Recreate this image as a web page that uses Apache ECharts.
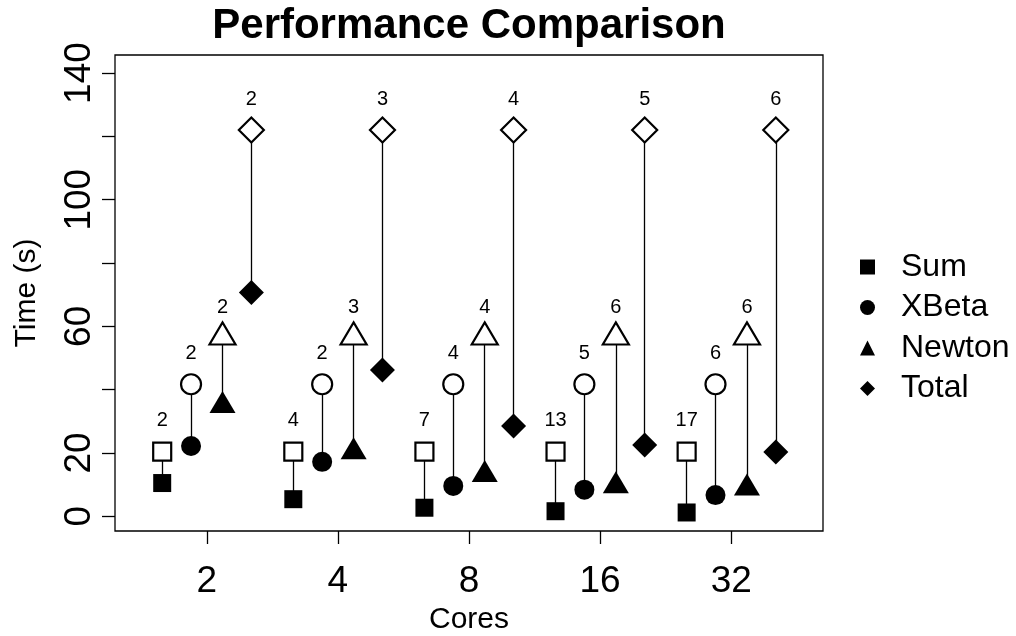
<!DOCTYPE html>
<html>
<head>
<meta charset="utf-8">
<script src="https://cdn.jsdelivr.net/npm/echarts@6/dist/echarts.min.js"></script>
<style>html,body{margin:0;padding:0;background:#fff}#c{width:1016px;height:636px}</style>
</head>
<body>
<div id="c"></div>
<script>
// ---- data ----
const cores = ['2', '4', '8', '16', '32'];
const sumTime = [10.5, 5.4, 2.7, 1.6, 1.2];
const sumBase = [20.4, 20.4, 20.4, 20.4, 20.4];
const sumSpeedup = [2, 4, 7, 13, 17];
const xbetaTime = [22.2, 17.2, 9.6, 8.4, 6.7];
const xbetaBase = [41.7, 41.7, 41.7, 41.7, 41.7];
const xbetaSpeedup = [2, 2, 4, 5, 6];
const newtonTime = [34.8, 20.2, 13.0, 9.5, 8.8];
const newtonBase = [56.5, 56.5, 56.5, 56.5, 56.5];
const newtonSpeedup = [2, 3, 4, 6, 6];
const totalTime = [70.7, 46.2, 28.5, 22.5, 20.3];
const totalBase = [122, 122, 122, 122, 122];
const totalSpeedup = [2, 3, 4, 5, 6];
const yTicks = [0, 20, 40, 60, 80, 100, 120, 140];
const yLabels = [0, 20, 60, 100, 140];

const FONT = 'Liberation Sans, Arial, sans-serif';
const groups = [
  {name: 'Sum', time: sumTime, base: sumBase, sp: sumSpeedup, off: -0.34, sym: 'rect', size: 18, lab: -31},
  {name: 'XBeta', time: xbetaTime, base: xbetaBase, sp: xbetaSpeedup, off: -0.12, sym: 'circle', size: 20, lab: -31},
  {name: 'Newton', time: newtonTime, base: newtonBase, sp: newtonSpeedup, off: 0.12, sym: 'triangle', size: [26, 22], lab: -26},
  {name: 'Total', time: totalTime, base: totalBase, sp: totalSpeedup, off: 0.34, sym: 'diamond', size: [25, 25], lab: -31}
];

const series = [];
groups.forEach(g => {
  const symOffset = g.sym === 'triangle' ? [0, -4] : [0, 0];
  // connecting segments
  series.push({
    type: 'lines', coordinateSystem: 'cartesian2d', silent: true, z: 1,
    lineStyle: {color: '#000', width: 1.3, opacity: 1},
    data: g.time.map((v, i) => ({coords: [[i + 1 + g.off, v], [i + 1 + g.off, g.base[i]]]}))
  });
  series.push({
    name: g.name + ' base', type: 'scatter', z: 3,
    symbol: g.sym, symbolSize: g.size, symbolOffset: symOffset,
    itemStyle: {color: '#fff', borderColor: '#000', borderWidth: 2.2, opacity: 1},
    label: {show: true, position: 'inside', offset: [0, g.lab], color: '#000', fontSize: 20, fontFamily: FONT,
      formatter: p => String(g.sp[p.dataIndex])},
    data: g.base.map((v, i) => [i + 1 + g.off, v])
  });
  series.push({
    name: g.name, type: 'scatter', z: 3,
    symbol: g.sym, symbolSize: g.size, symbolOffset: symOffset,
    itemStyle: {color: '#000', opacity: 1},
    data: g.time.map((v, i) => [i + 1 + g.off, v])
  });
});

const chart = echarts.init(document.getElementById('c'), null, {renderer: 'canvas'});
chart.setOption({
  animation: false,
  backgroundColor: '#fff',
  title: {
    text: 'Performance Comparison', left: 469, top: 5, textAlign: 'center', padding: 0,
    textStyle: {fontFamily: FONT, fontWeight: 'bold', fontSize: 42, color: '#000'}
  },
  legend: {
    orient: 'vertical', left: 855, top: 246, itemGap: 8.5,
    itemWidth: 15, itemHeight: 15,
    textStyle: {fontFamily: FONT, fontSize: 32, color: '#000', padding: [0, 0, 0, 21]},
    data: [
      {name: 'Sum', icon: 'rect', itemStyle: {color: '#000'}},
      {name: 'XBeta', icon: 'circle', itemStyle: {color: '#000'}},
      {name: 'Newton', icon: 'triangle', itemStyle: {color: '#000'}},
      {name: 'Total', icon: 'diamond', itemStyle: {color: '#000'}}
    ],
    selectedMode: false
  },
  grid: {left: 115, right: 193, top: 55, bottom: 105, outerBoundsMode: 'none', containLabel: false,
    show: true, borderColor: '#000', borderWidth: 1.3, backgroundColor: 'transparent'},
  xAxis: {
    type: 'value', min: 0.3, max: 5.7,
    name: 'Cores', nameLocation: 'middle', nameGap: 74,
    nameTextStyle: {fontFamily: FONT, fontSize: 30, color: '#000'},
    axisLine: {show: false, onZero: false},
    splitLine: {show: false},
    axisTick: {show: true, inside: false, length: 13, lineStyle: {color: '#000', width: 1.3}, customValues: [1, 2, 3, 4, 5]},
    axisLabel: {fontFamily: FONT, fontSize: 37, color: '#000', margin: 32, customValues: [1, 2, 3, 4, 5],
      formatter: v => cores[Math.round(v) - 1]}
  },
  yAxis: {
    type: 'value', min: -4.65, max: 145.7,
    name: 'Time (s)', nameLocation: 'middle', nameGap: 73, nameRotate: 90,
    nameTextStyle: {fontFamily: FONT, fontSize: 30, color: '#000'},
    axisLine: {show: false, onZero: false},
    splitLine: {show: false},
    axisTick: {show: true, inside: false, length: 13, lineStyle: {color: '#000', width: 1.3}, customValues: yTicks},
    axisLabel: {fontFamily: FONT, fontSize: 37, color: '#000', rotate: 90, margin: 17, customValues: yLabels}
  },
  series: series
});
</script>
</body>
</html>
